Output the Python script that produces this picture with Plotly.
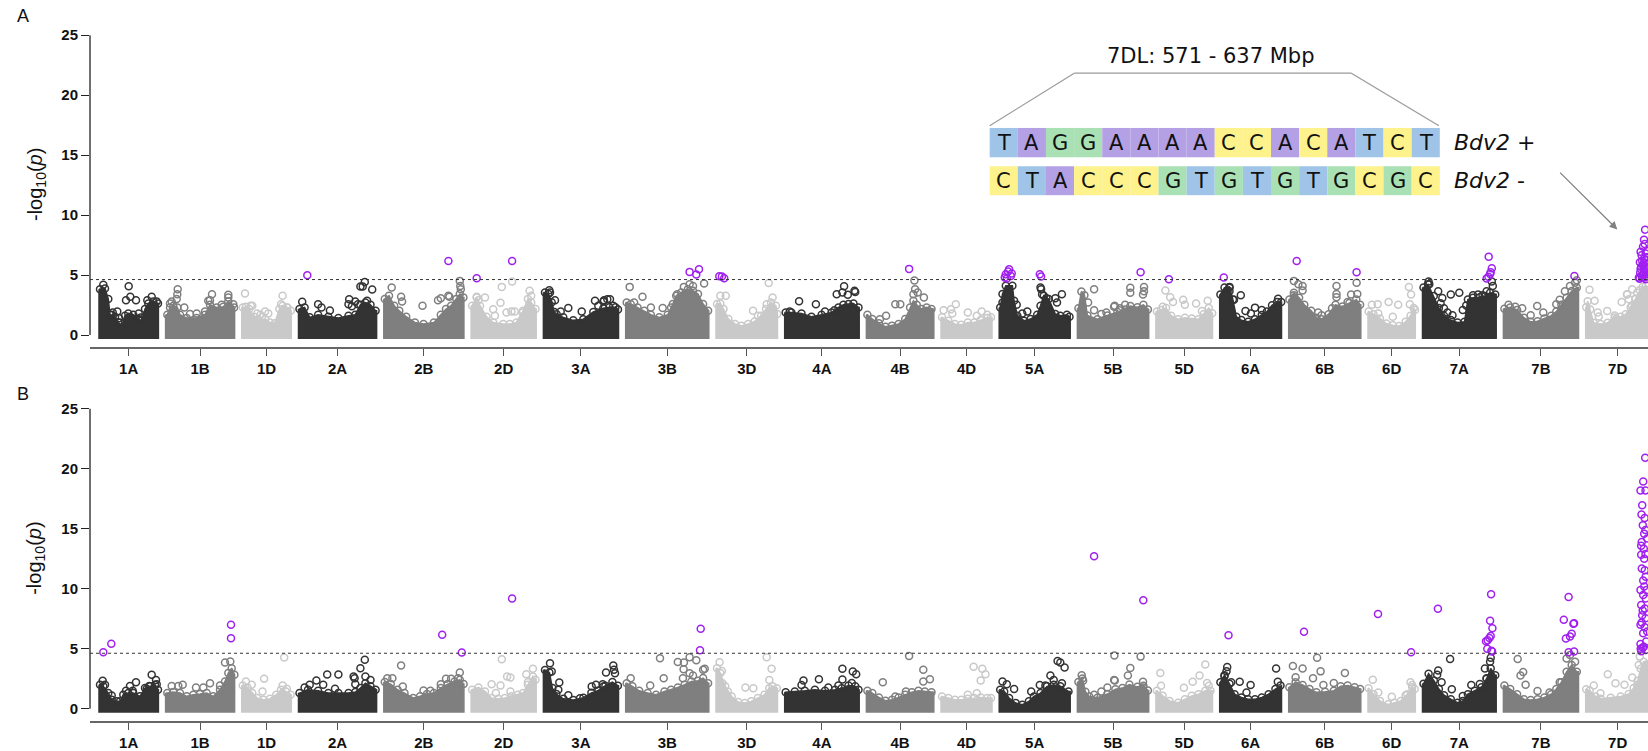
import plotly.graph_objects as go

# ---------------- data ----------------
CHROMS = ["1A", "1B", "1D", "2A", "2B", "2D", "3A", "3B", "3D", "4A", "4B", "4D",
          "5A", "5B", "5D", "6A", "6B", "6D", "7A", "7B", "7D"]
CHR_LEN_MB = [594, 690, 495, 781, 801, 651, 751, 831, 615, 745, 674, 510,
              710, 713, 566, 618, 721, 473, 737, 751, 639]
THRESHOLD = 4.63
Y_TICKS = [0, 5, 10, 15, 20, 25]

# upper edge of the dense SNP cloud (position Mb, -log10 p), panel A
A_ENVELOPE = {
    "1A": [(10, 4.1), (60, 4.16), (93, 3.27), (110, 1.97), (160, 1.8), (193, 1.33), (227, 0.92), (260, 1.89), (293, 2.08), (343, 1.97), (393, 1.61), (427, 1.47), (460, 2.44), (493, 2.91), (543, 3.08), (590, 2.91)],
    "1B": [(17, 1.97), (44, 2.58), (77, 2.72), (117, 2.58), (144, 1.97), (211, 1.69), (311, 1.69), (394, 1.97), (444, 2.8), (511, 2.58), (577, 2.63), (627, 3.08), (685, 2.58)],
    "1D": [(10, 2.58), (41, 2.63), (73, 2.44), (121, 1.8), (169, 1.52), (233, 1.61), (281, 1.33), (329, 1.25), (376, 2.44), (408, 2.72), (456, 2.58), (490, 2.3)],
    "2A": [(10, 2.44), (61, 2.58), (112, 1.75), (196, 1.97), (298, 1.8), (399, 1.69), (500, 1.89), (568, 1.97), (619, 2.8), (669, 2.99), (720, 2.8), (771, 2.3)],
    "2B": [(10, 3.27), (52, 3.55), (104, 2.72), (155, 2.3), (224, 1.8), (311, 1.33), (397, 1.2), (501, 1.33), (570, 1.97), (622, 2.44), (673, 2.72), (725, 3.27), (760, 3.69), (796, 3.41)],
    "2D": [(10, 2.72), (56, 3.41), (89, 2.72), (155, 1.8), (221, 1.33), (321, 1.2), (387, 1.2), (453, 1.33), (519, 2.3), (568, 3.27), (601, 2.99), (644, 2.44)],
    "3A": [(16, 3.83), (50, 3.7), (83, 3.0), (110, 2.2), (133, 2.0), (199, 1.75), (299, 1.5), (399, 1.6), (499, 2.2), (599, 2.5), (660, 2.6), (720, 2.6), (746, 2.4)],
    "3B": [(10, 2.99), (50, 2.86), (118, 2.58), (185, 2.3), (252, 1.97), (336, 1.75), (420, 1.97), (471, 2.86), (505, 3.55), (555, 3.83), (622, 4.1), (673, 3.97), (723, 3.69), (774, 2.86), (824, 2.3)],
    "3D": [(10, 2.86), (43, 2.91), (75, 2.44), (124, 1.61), (190, 1.2), (255, 1.06), (321, 1.2), (386, 1.41), (451, 1.89), (500, 2.44), (550, 2.99), (599, 2.72), (612, 2.03)],
    "4A": [(10, 2.16), (67, 2.16), (168, 2.08), (268, 1.8), (369, 1.97), (470, 2.16), (537, 2.58), (587, 2.8), (638, 2.86), (688, 2.91), (738, 2.58)],
    "4B": [(10, 1.97), (59, 1.61), (125, 1.25), (191, 0.97), (256, 1.06), (322, 1.2), (388, 1.61), (437, 2.58), (470, 3.13), (503, 2.8), (552, 2.44), (602, 2.58), (651, 2.44)],
    "4D": [(10, 1.75), (74, 1.47), (139, 1.2), (203, 1.14), (268, 1.33), (332, 1.33), (397, 1.52), (462, 1.69), (500, 1.75)],
    "5A": [(10, 2.58), (33, 3.69), (66, 4.38), (132, 4.38), (149, 3.13), (182, 1.89), (248, 1.47), (314, 1.61), (380, 1.97), (413, 2.72), (446, 3.55), (495, 3.27), (561, 2.03), (611, 1.89), (677, 1.97), (703, 1.8)],
    "5B": [(10, 2.5), (40, 3.9), (70, 3.6), (100, 1.9), (200, 1.6), (300, 1.9), (400, 2.2), (480, 2.4), (530, 2.7), (600, 2.6), (660, 2.8), (705, 2.4)],
    "5D": [(10, 2.23), (51, 2.37), (102, 2.52), (153, 1.89), (222, 1.6), (290, 1.72), (358, 1.66), (426, 1.6), (477, 2.01), (529, 2.52), (563, 2.09)],
    "6A": [(7, 3.66), (48, 4.23), (98, 4.29), (132, 3.23), (166, 1.8), (217, 1.52), (285, 1.38), (353, 1.6), (421, 1.95), (472, 2.23), (523, 2.75), (574, 3.03), (615, 3.03)],
    "6B": [(7, 3.23), (52, 3.8), (104, 3.38), (156, 2.8), (225, 2.29), (277, 1.72), (329, 1.6), (399, 2.01), (468, 2.8), (537, 2.66), (607, 2.95), (676, 3.23), (714, 2.8)],
    "6D": [(6, 2.23), (55, 2.01), (119, 1.66), (183, 1.23), (248, 1.09), (312, 1.03), (376, 1.38), (425, 1.89), (457, 2.52), (470, 2.37)],
    "7A": [(10, 4.23), (55, 4.5), (113, 3.52), (164, 2.52), (215, 1.89), (283, 1.52), (351, 1.32), (420, 1.38), (454, 3.23), (505, 3.38), (573, 3.43), (624, 3.52), (676, 3.8), (727, 3.66)],
    "7B": [(10, 2.46), (68, 2.58), (137, 2.37), (205, 1.72), (273, 1.38), (341, 1.43), (410, 1.66), (478, 1.89), (529, 2.23), (580, 2.8), (632, 3.38), (683, 3.95), (734, 4.23)],
    "7D": [(5, 2.6), (20, 3.1), (45, 2.4), (80, 1.3), (150, 1.2), (220, 1.3), (290, 1.9), (350, 1.8), (400, 2.0), (450, 2.6), (500, 3.3), (540, 4.0), (570, 4.3), (600, 4.4), (630, 4.2)],
}

# individually visible SNPs (position Mb, -log10 p), panel A
A_POINTS = {
    "1A": [(43, 4.19), (297, 4.08), (270, 2.91), (313, 3.19), (370, 2.91), (137, 1.89), (183, 1.97), (203, 1.41), (210, 1.06), (397, 1.8), (410, 1.25), (483, 2.91), (527, 3.19), (577, 2.8), (127, 1.69), (417, 1.47)],
    "1B": [(121, 3.83), (117, 3.41), (111, 3.0), (61, 2.8), (44, 2.63), (187, 2.3), (464, 3.41), (444, 2.91), (627, 3.36), (627, 3.13), (677, 2.58), (427, 2.86), (561, 2.52), (394, 1.97), (311, 1.8), (244, 1.75)],
    "1D": [(32, 3.46), (89, 2.44), (105, 2.44), (408, 3.27), (392, 2.58), (450, 2.3), (153, 1.8), (185, 1.69), (233, 1.97), (265, 1.8), (201, 1.52)],
    "2A": [(88, 4.99), (37, 2.77), (196, 2.58), (230, 2.3), (314, 2.05), (507, 2.99), (500, 2.58), (534, 2.41), (595, 2.58), (619, 4.05), (642, 4.05), (663, 4.43), (737, 3.8), (568, 2.8), (686, 2.86)],
    "2B": [(646, 6.18), (79, 3.97), (387, 2.44), (542, 2.91), (570, 3.08), (646, 3.27), (656, 3.19), (760, 4.52), (765, 4.1), (770, 3.83), (173, 3.19), (183, 2.8)],
    "2D": [(56, 4.74), (410, 6.18), (410, 4.46), (307, 4.02), (139, 3.13), (294, 2.69), (221, 2.16), (354, 1.89), (403, 1.97), (436, 1.97), (512, 1.89), (238, 1.61), (585, 3.69), (601, 3.27), (56, 3.19), (73, 2.91)],
    "3A": [(59, 3.74), (66, 3.55), (116, 2.91), (173, 1.97), (249, 2.25), (383, 1.97), (516, 2.86), (549, 2.44), (599, 2.8), (639, 2.99), (606, 2.91), (666, 2.99), (699, 2.44)],
    "3B": [(639, 5.27), (706, 5.05), (733, 5.49), (40, 4.02), (168, 3.19), (252, 2.3), (370, 2.25), (582, 4.02), (639, 4.24), (673, 4.1), (784, 4.3), (515, 3.41), (454, 2.3), (84, 2.72)],
    "3D": [(33, 4.91), (59, 4.88), (82, 4.74), (98, 3.27), (43, 3.27), (527, 4.35), (566, 3.13), (507, 2.58), (370, 2.03), (419, 1.61)],
    "4A": [(144, 2.83), (312, 2.58), (594, 4.08), (520, 3.41), (577, 3.55), (631, 3.36), (698, 3.69), (705, 3.6), (497, 2.08), (403, 1.97), (50, 1.97)],
    "4B": [(427, 5.52), (480, 4.55), (487, 3.83), (470, 3.41), (513, 3.55), (575, 3.13), (289, 2.58), (339, 2.58), (197, 1.61), (135, 1.33)],
    "4D": [(148, 2.58), (100, 2.16), (26, 2.08), (113, 1.8), (268, 1.89), (407, 1.97), (462, 1.69), (358, 1.61)],
    "5A": [(99, 5.49), (89, 5.3), (66, 5.07), (116, 4.93), (56, 4.8), (76, 4.71), (125, 5.13), (406, 5.07), (419, 4.88), (413, 3.97), (419, 3.83), (429, 3.41), (627, 3.41), (561, 3.08), (472, 2.58), (33, 2.72), (175, 2.52), (231, 1.8), (281, 1.97), (472, 3.08), (578, 2.72)],
    "5B": [(167, 3.83), (107, 2.72), (167, 2.08), (240, 1.75), (290, 1.89), (373, 2.44), (423, 2.08), (529, 3.95), (529, 3.52), (666, 4.0), (666, 3.66), (656, 3.38), (632, 5.23), (477, 2.52), (426, 2.23), (367, 2.37)],
    "5D": [(130, 4.66), (95, 3.72), (143, 3.15), (171, 2.75), (273, 2.95), (290, 2.52), (402, 2.63), (460, 2.01), (518, 2.86), (68, 2.37)],
    "6A": [(41, 4.8), (98, 3.95), (98, 3.66), (143, 2.95), (211, 3.32), (258, 2.01), (353, 2.29), (421, 2.09), (312, 1.8), (584, 3.03)],
    "6B": [(80, 6.17), (679, 5.23), (52, 4.52), (97, 4.23), (139, 4.09), (139, 3.72), (52, 3.32), (295, 1.89), (329, 1.66), (478, 4.09), (478, 3.43), (478, 3.15), (624, 3.38), (679, 4.37), (686, 3.43), (589, 2.75), (433, 2.23)],
    "6D": [(39, 2.52), (97, 2.58), (206, 2.75), (302, 2.52), (409, 4.0), (431, 3.38), (418, 2.58), (103, 1.8), (248, 1.52)],
    "7A": [(662, 6.54), (693, 5.57), (676, 5.09), (659, 4.86), (641, 4.72), (682, 5.23), (61, 4.46), (68, 4.23), (157, 3.66), (283, 3.38), (368, 3.52), (198, 3.09), (181, 2.66), (215, 2.23), (249, 1.89), (300, 1.66), (403, 2.09), (437, 2.46), (505, 3.32), (556, 3.38), (600, 3.32), (693, 4.46), (703, 4.09), (641, 3.66)],
    "7B": [(710, 4.92), (51, 2.52), (119, 2.37), (188, 2.23), (338, 2.43), (273, 1.66), (529, 2.58), (563, 2.95), (615, 3.66), (666, 4.09), (717, 4.37), (734, 4.57), (399, 1.89)],
    "7D": [(594, 8.79), (583, 7.94), (573, 7.37), (549, 6.94), (559, 6.66), (583, 6.37), (542, 6.08), (573, 5.8), (549, 5.51), (583, 5.23), (559, 4.94), (600, 4.66), (532, 4.8), (618, 6.51), (618, 5.66), (608, 5.09), (538, 4.7),
           (565, 6.2), (575, 5.9), (590, 6.0), (600, 5.5), (610, 5.3), (570, 5.0), (590, 4.8), (545, 5.2), (555, 5.7), (600, 6.8), (610, 7.0), (590, 7.6), (620, 4.9), (565, 4.8), (580, 5.5),
           (38, 3.77), (131, 1.55), (215, 2.0), (291, 1.47), (415, 3.4), (431, 2.99), (465, 3.83), (89, 2.86), (120, 1.89), (360, 2.75), (412, 3.38), (463, 2.46), (498, 3.03), (515, 3.52)],
}

B_ENVELOPE = {
    "1A": [(10, 2.28), (43, 2.14), (93, 1.58), (127, 1.03), (177, 0.89), (210, 0.89), (243, 1.45), (293, 1.58), (343, 1.58), (410, 1.31), (460, 2.0), (510, 2.14), (560, 2.28), (590, 1.86)],
    "1B": [(17, 1.58), (77, 1.67), (144, 1.58), (211, 1.31), (277, 1.45), (344, 1.5), (411, 1.58), (477, 1.31), (544, 1.86), (594, 2.55), (627, 3.25), (661, 3.66), (688, 3.11)],
    "1D": [(10, 2.22), (57, 2.05), (105, 1.58), (153, 1.17), (217, 1.03), (281, 1.11), (345, 1.45), (392, 1.86), (440, 1.72), (488, 1.45)],
    "2A": [(10, 1.58), (95, 1.86), (196, 1.78), (298, 1.58), (399, 1.58), (500, 1.58), (568, 1.67), (619, 2.0), (669, 2.41), (720, 2.14), (771, 1.86)],
    "2B": [(10, 2.5), (69, 2.33), (138, 1.86), (207, 1.58), (294, 1.17), (363, 1.31), (432, 1.5), (501, 1.58), (570, 2.0), (639, 2.33), (708, 2.55), (760, 2.69), (798, 2.33)],
    "2D": [(10, 1.86), (73, 2.05), (139, 1.72), (205, 1.17), (271, 1.11), (337, 1.17), (403, 1.31), (469, 1.45), (519, 1.58), (568, 2.28), (618, 2.97), (644, 2.69)],
    "3A": [(16, 3.5), (60, 3.3), (90, 2.0), (130, 1.5), (200, 1.1), (300, 1.0), (400, 1.2), (480, 1.6), (550, 1.8), (620, 2.2), (690, 2.5), (745, 2.2)],
    "3B": [(10, 2.41), (67, 2.14), (135, 1.77), (219, 1.58), (303, 1.44), (387, 1.72), (454, 1.86), (521, 2.05), (589, 2.28), (656, 2.55), (723, 2.61), (774, 2.83), (824, 2.41)],
    "3D": [(10, 3.66), (43, 3.25), (92, 2.14), (157, 1.3), (222, 0.83), (288, 0.75), (353, 0.89), (419, 1.17), (484, 1.44), (533, 1.99), (566, 2.14), (608, 1.99)],
    "4A": [(10, 1.66), (101, 1.72), (201, 1.77), (302, 1.86), (403, 1.77), (503, 1.86), (570, 1.99), (638, 2.22), (705, 2.14), (738, 1.86)],
    "4B": [(10, 1.77), (59, 1.58), (125, 1.22), (191, 0.94), (256, 1.03), (322, 1.22), (388, 1.44), (454, 1.66), (520, 1.77), (585, 1.72), (651, 1.66)],
    "4D": [(10, 1.3), (74, 1.17), (139, 1.03), (203, 1.03), (268, 1.11), (332, 1.17), (397, 1.22), (462, 1.17), (500, 1.17)],
    "5A": [(10, 1.86), (50, 1.72), (99, 1.17), (165, 0.75), (231, 0.61), (297, 0.89), (347, 1.3), (413, 1.58), (479, 2.14), (545, 2.28), (611, 2.14), (693, 1.72)],
    "5B": [(10, 2.5), (50, 2.8), (80, 1.7), (120, 1.3), (200, 1.2), (300, 1.5), (380, 1.9), (450, 2.0), (520, 2.3), (600, 2.1), (660, 2.2), (705, 1.8)],
    "5D": [(10, 1.78), (68, 1.35), (136, 0.93), (222, 0.78), (290, 1.07), (358, 1.35), (426, 1.49), (494, 1.78), (546, 1.78)],
    "6A": [(7, 2.49), (48, 3.06), (98, 2.35), (149, 1.49), (217, 1.21), (285, 1.07), (353, 1.07), (421, 1.21), (489, 1.49), (557, 1.92), (608, 2.21)],
    "6B": [(7, 2.06), (69, 2.49), (139, 2.26), (208, 1.92), (277, 1.64), (364, 1.69), (451, 1.78), (520, 2.15), (589, 2.21), (659, 2.06), (714, 1.92)],
    "6D": [(6, 1.98), (55, 1.49), (119, 0.93), (200, 0.64), (264, 0.78), (328, 0.93), (393, 1.49), (441, 2.06), (467, 1.92)],
    "7A": [(10, 2.35), (61, 3.2), (113, 2.63), (164, 1.92), (215, 1.41), (283, 1.07), (351, 0.78), (403, 0.93), (454, 1.49), (522, 1.78), (590, 2.06), (641, 2.78), (682, 3.63), (727, 3.06)],
    "7B": [(10, 2.21), (68, 1.92), (137, 1.49), (205, 1.07), (273, 1.01), (341, 1.07), (410, 1.21), (478, 1.49), (529, 1.92), (580, 2.49), (632, 3.35), (683, 3.92), (734, 3.35)],
    "7D": [(5, 1.9), (40, 1.8), (100, 1.3), (150, 1.1), (250, 1.2), (350, 1.3), (430, 1.5), (480, 2.0), (520, 2.6), (550, 3.6), (580, 4.2), (630, 4.3)],
}

B_POINTS = {
    "1A": [(43, 4.71), (123, 5.43), (37, 2.33), (60, 2.0), (127, 1.11), (270, 1.5), (310, 1.91), (370, 2.22), (337, 1.5), (527, 2.83), (503, 1.91), (570, 2.41), (577, 2.05), (477, 1.67)],
    "1B": [(654, 7.01), (654, 5.88), (594, 3.85), (647, 3.94), (61, 1.91), (127, 1.91), (171, 2.0), (304, 1.78), (377, 1.78), (444, 2.14), (544, 1.94)],
    "1D": [(424, 4.27), (223, 2.5), (99, 2.0), (207, 1.45), (408, 1.94), (450, 1.67), (41, 2.28)],
    "2A": [(663, 4.08), (619, 3.38), (568, 2.05), (287, 2.86), (399, 2.86), (551, 2.69), (561, 2.55), (669, 2.69), (179, 2.36), (247, 2.0), (112, 2.0), (61, 1.78), (365, 1.67), (720, 2.41)],
    "2B": [(584, 6.18), (780, 4.69), (173, 3.61), (35, 2.55), (86, 2.55), (190, 1.86), (397, 1.53), (466, 1.5), (570, 2.05), (622, 2.5), (673, 2.5), (742, 2.55), (760, 3.02)],
    "2D": [(410, 9.2), (307, 4.13), (360, 2.69), (393, 2.61), (294, 1.94), (205, 2.05), (248, 1.31), (552, 2.88), (618, 3.33), (568, 2.22), (393, 1.45)],
    "3A": [(66, 3.8), (83, 3.11), (159, 2.19), (149, 1.58), (249, 1.14), (366, 0.89), (483, 1.86), (526, 2.0), (599, 1.86), (626, 3.02), (699, 3.61), (706, 3.25), (716, 2.97), (593, 2.05)],
    "3B": [(750, 6.68), (743, 4.88), (343, 4.21), (521, 3.91), (582, 3.85), (639, 4.3), (706, 4.05), (579, 3.3), (639, 2.97), (673, 2.77), (774, 3.25), (790, 3.33), (380, 2.55), (245, 1.94), (50, 2.55), (572, 2.55)],
    "3D": [(36, 3.88), (59, 3.16), (65, 2.14), (507, 4.3), (556, 3.33), (533, 2.41), (294, 1.77), (373, 1.72), (118, 1.44)],
    "4A": [(188, 2.36), (342, 2.47), (577, 3.33), (577, 2.44), (681, 3.11), (715, 2.88), (671, 2.16), (537, 1.94), (436, 1.77), (168, 1.99)],
    "4B": [(427, 4.41), (569, 3.25), (569, 2.28), (635, 2.47), (164, 2.22), (289, 1.03), (395, 1.44)],
    "4D": [(326, 3.5), (413, 3.33), (445, 2.88), (397, 2.36), (358, 1.3), (268, 1.17)],
    "5A": [(33, 2.28), (76, 2.05), (149, 1.66), (320, 1.44), (406, 1.99), (462, 1.94), (512, 2.77), (584, 3.99), (611, 3.85), (654, 3.44), (627, 2.14), (545, 2.41)],
    "5B": [(167, 12.72), (659, 9.05), (43, 2.8), (57, 2.33), (167, 1.17), (240, 1.44), (300, 1.77), (367, 2.41), (370, 4.45), (632, 4.35), (529, 3.4), (505, 2.78), (374, 2.35), (656, 2.26), (656, 1.78)],
    "5D": [(494, 3.69), (436, 2.78), (368, 2.26), (280, 1.75), (51, 1.92), (44, 2.98), (529, 1.92), (512, 2.15)],
    "6A": [(88, 6.14), (75, 3.49), (68, 3.12), (48, 2.72), (200, 2.26), (115, 2.21), (309, 1.98), (564, 3.35), (581, 2.26), (268, 1.35)],
    "6B": [(153, 6.43), (284, 4.26), (42, 3.57), (139, 3.35), (319, 3.12), (562, 2.98), (451, 2.15), (347, 1.98), (243, 2.55), (69, 2.63)],
    "6D": [(100, 7.91), (431, 4.72), (48, 2.43), (103, 1.35), (238, 1.01), (376, 1.12), (425, 2.21), (441, 1.98)],
    "7A": [(154, 8.34), (686, 9.54), (676, 7.34), (699, 6.71), (682, 6.06), (669, 5.91), (652, 5.71), (635, 5.63), (648, 5.0), (696, 4.77), (689, 4.83), (276, 4.15), (157, 3.2), (147, 2.83), (191, 2.21), (293, 1.64), (403, 1.07), (488, 1.98), (573, 2.06), (624, 3.35), (641, 2.55), (676, 3.92), (682, 4.26)],
    "7B": [(652, 9.31), (604, 7.43), (707, 7.14), (700, 7.08), (683, 6.26), (666, 6.03), (625, 5.86), (652, 4.72), (707, 4.77), (143, 4.15), (171, 2.78), (198, 3.06), (222, 2.0), (341, 1.49), (461, 1.35), (563, 2.21), (632, 4.2), (666, 4.49), (717, 3.92)],
    "7D": [(595, 20.92), (575, 18.95), (548, 18.2), (598, 18.2), (565, 16.96), (558, 16.2), (571, 15.3), (598, 14.9), (585, 14.6), (555, 13.6), (581, 13.35), (598, 12.9), (555, 12.85), (585, 12.5), (561, 11.7), (591, 11.55), (575, 10.7), (548, 9.9), (575, 9.48), (601, 9.2), (555, 8.65), (591, 8.37), (565, 7.8), (598, 7.55), (548, 7.0), (575, 6.3), (605, 5.6), (548, 5.4), (581, 5.18), (615, 6.44), (608, 9.9), (615, 14.2),
           (560, 7.2), (590, 6.8), (570, 8.2), (585, 10.2), (600, 11.0), (560, 13.9), (590, 15.9), (550, 5.0), (570, 5.1), (600, 4.9), (555, 4.8),
           (221, 2.88), (298, 2.14), (388, 2.0), (465, 2.6), (515, 2.0), (531, 3.66), (541, 4.35), (81, 1.95), (148, 1.3)],
}

SEQ_PLUS = "TAGGAAAACCACATCT"
SEQ_MINUS = "CTACCCGTGTGTGCGC"
REGION_LABEL = "7DL: 571 - 637 Mbp"

# ---------------- styling / layout ----------------
W, H = 1648, 751
ML = 90
GAP = 72
X_RANGE = [-90, 15490]
GROUP_COLORS = {"A": "#333333", "B": "#7f7f7f", "D": "#c9c9c9"}
SIG_COLOR = "#A020F0"
BASE_COLORS = {"T": "#9fc4e8", "A": "#b4a0e4", "G": "#a9e1b4", "C": "#fdf28b"}
AXFONT = dict(family="Liberation Sans, Arial, sans-serif", size=15, color="#111", weight="bold")
ANNFONT = "DejaVu Sans, sans-serif"
MARKER_R = 0.27  # marker radius in y units (style)

offsets = {}
cum = 0
for i, (c, L) in enumerate(zip(CHROMS, CHR_LEN_MB)):
    offsets[c] = cum + i * GAP
    cum += L
centers = [offsets[c] + L / 2 for c, L in zip(CHROMS, CHR_LEN_MB)]

fig = go.Figure()


def open_marker(col):
    return dict(symbol="circle-open", size=7, color=col, line=dict(width=1.5))


def add_panel(env, pts, xa, ya):
    for c, L in zip(CHROMS, CHR_LEN_MB):
        col = GROUP_COLORS[c[1]]
        e = env[c]
        o = offsets[c]
        xs = [o] + [o + p for p, _ in e] + [o + L, o + L, o, o]
        ys = [e[0][1] - MARKER_R] + [v - MARKER_R for _, v in e] + [e[-1][1] - MARKER_R, -0.27, -0.27, e[0][1] - MARKER_R]
        fig.add_trace(go.Scatter(x=xs, y=ys, mode="lines", fill="toself", fillcolor=col,
                                 line=dict(color=col, width=1.5), xaxis=xa, yaxis=ya,
                                 hoverinfo="skip", showlegend=False))
        # circles along the top edge of the cloud
        fig.add_trace(go.Scatter(x=[o + p for p, _ in e], y=[v - MARKER_R for _, v in e],
                                 mode="markers", marker=open_marker(col), xaxis=xa, yaxis=ya,
                                 hoverinfo="skip", showlegend=False))
    for grp, col in GROUP_COLORS.items():
        xs, ys = [], []
        for c in CHROMS:
            if c[1] != grp:
                continue
            for p, v in pts[c]:
                if v <= THRESHOLD:
                    xs.append(offsets[c] + p)
                    ys.append(v)
        fig.add_trace(go.Scatter(x=xs, y=ys, mode="markers", xaxis=xa, yaxis=ya,
                                 marker=open_marker(col), showlegend=False, cliponaxis=False))
    xs, ys = [], []
    for c in CHROMS:
        for p, v in pts[c]:
            if v > THRESHOLD:
                xs.append(offsets[c] + p)
                ys.append(v)
    fig.add_trace(go.Scatter(x=xs, y=ys, mode="markers", xaxis=xa, yaxis=ya,
                             marker=open_marker(SIG_COLOR), showlegend=False, cliponaxis=False))


add_panel(A_ENVELOPE, A_POINTS, "x", "y")
add_panel(B_ENVELOPE, B_POINTS, "x2", "y2")

PX = 12.03  # px per -log10 unit


def dom(zero_px):
    bottom = zero_px + PX
    top = zero_px - 26 * PX
    return [1 - bottom / H, 1 - top / H]


xcommon = dict(range=X_RANGE, tickmode="array", tickvals=centers, ticktext=CHROMS,
               ticks="outside", ticklen=7, tickwidth=1.3, tickcolor="#555",
               showline=True, linecolor="#666", linewidth=1.5, showgrid=False,
               zeroline=False, tickfont=AXFONT, domain=[0, 1])
ycommon = dict(range=[-1, 26], tickmode="array", tickvals=Y_TICKS, ticks="outside",
               ticklen=8, tickwidth=1.3, tickcolor="#222", showline=False, showgrid=False,
               zeroline=False, tickfont=AXFONT)

fig.update_layout(
    width=W, height=H, margin=dict(l=ML, r=0, t=0, b=0),
    plot_bgcolor="white", paper_bgcolor="white",
    xaxis=dict(anchor="y", **xcommon),
    xaxis2=dict(anchor="y2", **xcommon),
    yaxis=dict(anchor="x", domain=dom(336), **ycommon),
    yaxis2=dict(anchor="x2", domain=dom(710.7), **ycommon),
)

shapes = []
for xr, yr in (("x", "y"), ("x2", "y2")):
    shapes.append(dict(type="line", xref=f"{xr} domain", yref=yr, x0=0, x1=0, y0=0, y1=25,
                       line=dict(color="#222", width=1.3)))
    shapes.append(dict(type="line", xref=f"{xr} domain", yref=yr, x0=0, x1=1,
                       y0=THRESHOLD, y1=THRESHOLD, line=dict(color="#333", width=1, dash="3px,3px")))


def pxx(px):
    return (px - ML) / (W - ML)


def pyy(py):
    return 1 - py / H


annotations = []
box_x0, box_x1 = 989.7, 1439.8
bw = (box_x1 - box_x0) / len(SEQ_PLUS)
for seq, (yt, yb) in ((SEQ_PLUS, (128.3, 157.7)), (SEQ_MINUS, (166.7, 195.7))):
    for k, base in enumerate(seq):
        x0 = box_x0 + k * bw
        shapes.append(dict(type="rect", xref="paper", yref="paper", x0=pxx(x0), x1=pxx(x0 + bw),
                           y0=pyy(yb), y1=pyy(yt), fillcolor=BASE_COLORS[base], line=dict(width=0)))
        annotations.append(dict(xref="paper", yref="paper", x=pxx(x0 + bw / 2), y=pyy((yt + yb) / 2),
                                text=base, showarrow=False, xanchor="center", yanchor="middle",
                                font=dict(family=ANNFONT, size=21, color="#111")))

for (xa_, ya_), (xb_, yb_) in (((989.7, 126), (1074.6, 73.3)), ((1074.6, 73.3), (1350.9, 73.3)),
                               ((1350.9, 73.3), (1438.9, 126))):
    shapes.append(dict(type="line", xref="paper", yref="paper", x0=pxx(xa_), y0=pyy(ya_),
                       x1=pxx(xb_), y1=pyy(yb_), line=dict(color="#9a9a9a", width=1.2)))

annotations.append(dict(xref="paper", yref="paper", x=pxx(1211), y=pyy(56), text=REGION_LABEL,
                        showarrow=False, xanchor="center", yanchor="middle",
                        font=dict(family=ANNFONT, size=21, color="#111")))
for lab, yc in (("<i>Bdv2</i> +", 143), ("<i>Bdv2</i> -", 181)):
    annotations.append(dict(xref="paper", yref="paper", x=pxx(1452), y=pyy(yc), text=lab,
                            showarrow=False, xanchor="left", yanchor="middle",
                            font=dict(family=ANNFONT, size=22, color="#111")))
annotations.append(dict(xref="paper", yref="paper", x=pxx(1617.3), y=pyy(230), ax=1558.6 - 1617.3,
                        ay=171.7 - 230, text="", showarrow=True, arrowhead=2, arrowsize=1.3,
                        arrowwidth=1.2, arrowcolor="#808080"))

for letter, py, mid in (("A", 16, 185.5), ("B", 395, 560.3)):
    annotations.append(dict(xref="paper", yref="paper", x=pxx(23), y=pyy(py), text=letter,
                            showarrow=False, xanchor="center", yanchor="middle",
                            font=dict(family="Liberation Sans, Arial, sans-serif", size=18, color="#111")))
    annotations.append(dict(xref="paper", yref="paper", x=pxx(36), y=pyy(mid),
                            text="-log<sub>10</sub>(<i>p</i>)", textangle=-90, showarrow=False,
                            xanchor="center", yanchor="middle",
                            font=dict(family="Liberation Sans, Arial, sans-serif", size=20, color="#111")))

fig.update_layout(shapes=shapes, annotations=annotations)

fig.write_html("out.html", config={"displayModeBar": False},
               post_script="document.body.style.margin='0';")
